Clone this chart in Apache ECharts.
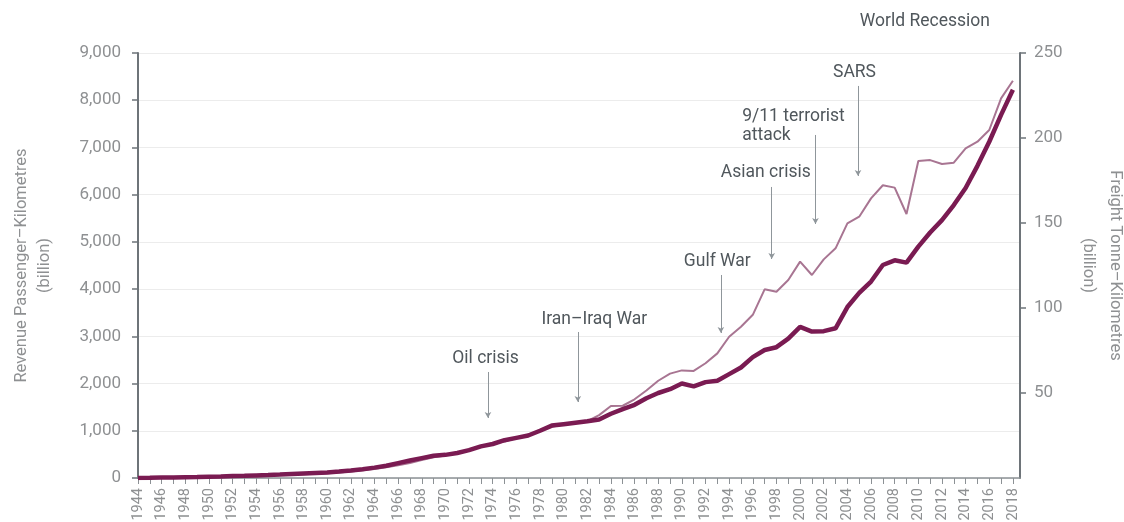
<!DOCTYPE html>
<html><head><meta charset="utf-8">
<script src="https://cdn.jsdelivr.net/npm/echarts@6/dist/echarts.min.js"></script>
<style>html,body{margin:0;padding:0;background:#fff}#c{width:1124px;height:522px}</style>
</head><body><div id="c"></div>
<script>
const years = [];
for (let y = 1944; y <= 2018; y++) years.push(y);

const rpk = [2,5,9,13,17,21,28,33,40,47,55,63,72,84,96,108,118,138,160,185,220,260,315,370,420,470,490,530,590,670,720,800,850,900,1000,1110,1140,1170,1200,1240,1360,1460,1550,1690,1800,1880,2000,1940,2030,2060,2200,2340,2560,2710,2770,2950,3200,3100,3110,3170,3620,3920,4160,4510,4610,4560,4900,5200,5460,5780,6140,6610,7120,7690,8220];

const ftk = [0.3,0.4,0.5,0.6,0.7,0.8,0.9,1.0,1.1,1.2,1.4,1.5,1.7,2.0,2.2,2.5,2.8,3.2,3.8,4.5,5.3,6.3,7.5,8.8,10.5,12.2,13.3,14.8,16.8,18.8,20.2,21.5,23.5,25.5,27.8,30.2,31.5,32.5,33.5,37.0,42.4,42.5,46.3,51.5,57.2,61.4,63.3,63.0,67.5,73.3,83.1,89.0,96.0,111.0,109.6,116.5,127.3,119.4,128.6,135.1,149.8,153.7,164.5,172.2,170.8,155.3,186.5,187.0,184.7,185.5,193.9,197.8,204.7,223.3,233.7];

const labelYears = years.filter(y => y % 2 === 0);

// annotations: text, text anchor [year, rpk], align, arrow [year, fromRpk, toRpk]
const annoText = ["Oil crisis","Iran–Iraq War","Gulf War","Asian crisis","9/11 terrorist\nattack","SARS","World Recession"];
const annoTextPos = [[1973.4,2520],[1982.6,3346],[1993.0,4574],[1997.1,6459],[1995.1,7454],[2004.6,8577],[2010.55,9657]];
const annoAlign = ["center","center","center","center","left","center","center"];
const annoArrow = [[1973.6,2245,1271],[1981.2,3092,1609],[1993.3,4299,3071],[1997.6,6163,4638],[2001.3,7264,5379],[2004.9,8302,6396],[2008.9,9339,6819]];

const FONT = 'Roboto, "Open Sans", sans-serif';
const chart = echarts.init(document.getElementById('c'), null, {renderer:'canvas'});

const markData = annoArrow.map(a => [
  {coord:[a[0], a[1]], symbol:'none'},
  {coord:[a[0], a[2]], symbol:'arrow'}
]);

chart.setOption({
  animation:false,
  grid:{left:138, right:104, top:53, bottom:44, containLabel:false, outerBoundsMode:'none'},
  xAxis:{
    type:'value', min:1944, max:2018.6,
    axisLine:{show:true, onZero:false, lineStyle:{color:'#8c9195', width:1.5}},
    axisTick:{show:true, length:6, lineStyle:{color:'#8c9195', width:1}, customValues: years},
    splitLine:{show:false},
    axisLabel:{rotate:90, margin:10, color:'#8e9092', fontSize:14.5, fontFamily:FONT,
      customValues: labelYears, formatter: v => String(v)}
  },
  yAxis:[{
    type:'value', min:0, max:9000, interval:1000, position:'left',
    name:'Revenue Passenger–Kilometres\n(billion)', nameLocation:'middle', nameGap:81.5, nameRotate:90,
    nameTextStyle:{color:'#8e9092', fontSize:16.5, fontFamily:FONT, lineHeight:23},
    axisLine:{show:true, lineStyle:{color:'#6e7479', width:2}},
    axisTick:{show:true, length:6, lineStyle:{color:'#6e7479', width:1.5}},
    splitLine:{show:true, lineStyle:{color:'#ececec', width:1}},
    axisLabel:{color:'#8e9092', fontSize:17, fontFamily:FONT, margin:17,
      formatter: v => v.toLocaleString('en-US')}
  },{
    type:'value', min:0, max:250, interval:50, position:'right',
    name:'Freight Tonne–Kilometres\n(billion)', nameLocation:'middle', nameGap:54.5, nameRotate:-90,
    nameTextStyle:{color:'#8e9092', fontSize:16.5, fontFamily:FONT, lineHeight:27},
    axisLine:{show:true, lineStyle:{color:'#6e7479', width:2}},
    axisTick:{show:true, length:6, lineStyle:{color:'#6e7479', width:1.5}},
    splitLine:{show:false},
    axisLabel:{color:'#8e9092', fontSize:17, fontFamily:FONT, margin:14, showMinLabel:false}
  }],
  series:[{
    name:'Freight', type:'line', yAxisIndex:1, showSymbol:false, symbol:'none',
    data: years.map((y,i)=>[y, ftk[i]]),
    lineStyle:{color:'#a87592', width:2}, z:2
  },{
    name:'Passenger', type:'line', yAxisIndex:0, showSymbol:false, symbol:'none',
    data: years.map((y,i)=>[y, rpk[i]]),
    lineStyle:{color:'#7a1b52', width:4.5}, z:3,
    markLine:{silent:true, animation:false, symbolSize:[5,6],
      lineStyle:{color:'#8f969b', width:1, type:'solid'}, label:{show:false},
      data: markData}
  }]
});

const graphics = annoText.map((t,i) => {
  const p = chart.convertToPixel({xAxisIndex:0, yAxisIndex:0}, annoTextPos[i]);
  return {type:'text', x:p[0], y:p[1], z:10,
    style:{text:t, fill:'#50575c', font:'17.5px ' + FONT, align:annoAlign[i], verticalAlign:'middle', lineHeight:19}};
});
chart.setOption({graphic: graphics});
</script></body></html>
